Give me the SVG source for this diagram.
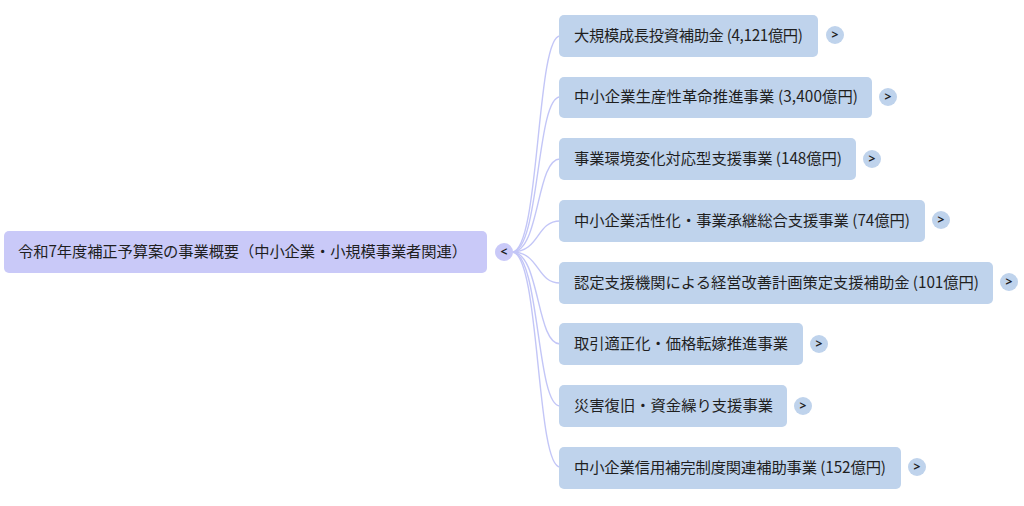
<svg xmlns="http://www.w3.org/2000/svg" width="1024" height="506" viewBox="0 0 1024 506">
<style>
.root{fill:#c9c9f8}
.box{fill:#bfd3ec}
.t{font-family:"Noto Sans CJK JP","Noto Sans",sans-serif;font-size:15.3px;fill:#1f1f1f}
.btn{font-family:"Noto Sans","Liberation Sans",sans-serif;font-size:12px;font-weight:bold;fill:#1f1f1f;text-anchor:middle}
.cr{fill:#c9c9f8}
.cb{fill:#bfd3ec}
.link{fill:none;stroke:#c3c6f7;stroke-width:1.4}
</style>
<rect width="1024" height="506" fill="#ffffff"/>
<g id="connectors">
<path class="link" d="M512,252 C540,252 536,36 560,36"/>
<path class="link" d="M512,252 C540,252 536,97 560,97"/>
<path class="link" d="M512,252 C540,252 536,159 560,159"/>
<path class="link" d="M512,252 C540,252 536,221 560,221"/>
<path class="link" d="M512,252 C540,252 536,283 560,283"/>
<path class="link" d="M512,252 C540,252 536,344 560,344"/>
<path class="link" d="M512,252 C540,252 536,406 560,406"/>
<path class="link" d="M512,252 C540,252 536,467 560,467"/>
</g>
<g id="root">
<rect class="root" x="4" y="231" width="483" height="42" rx="5"/>
<text class="t" x="18" y="257" textLength="449">令和7年度補正予算案の事業概要（中小企業・小規模事業者関連）</text>
<circle class="cr" cx="504" cy="252" r="9"/>
<text class="btn" x="504" y="256">&lt;</text>
</g>
<g id="n1">
<rect class="box" x="559" y="15" width="259" height="42" rx="5"/>
<text class="t" x="574" y="41" textLength="229">大規模成長投資補助金 (4,121億円)</text>
<circle class="cb" cx="835" cy="35" r="9"/>
<text class="btn" x="835" y="39">&gt;</text>
</g>
<g id="n2">
<rect class="box" x="559" y="77" width="313" height="41" rx="5"/>
<text class="t" x="574" y="102" textLength="284">中小企業生産性革命推進事業 (3,400億円)</text>
<circle class="cb" cx="888" cy="97" r="9"/>
<text class="btn" x="888" y="101">&gt;</text>
</g>
<g id="n3">
<rect class="box" x="559" y="138" width="297" height="42" rx="5"/>
<text class="t" x="574" y="164" textLength="268">事業環境変化対応型支援事業 (148億円)</text>
<circle class="cb" cx="872" cy="159" r="9"/>
<text class="btn" x="872" y="163">&gt;</text>
</g>
<g id="n4">
<rect class="box" x="559" y="200" width="366" height="42" rx="5"/>
<text class="t" x="574" y="226" textLength="336">中小企業活性化・事業承継総合支援事業 (74億円)</text>
<circle class="cb" cx="941" cy="220" r="9"/>
<text class="btn" x="941" y="224">&gt;</text>
</g>
<g id="n5">
<rect class="box" x="559" y="262" width="434" height="42" rx="5"/>
<text class="t" x="574" y="288" textLength="405">認定支援機関による経営改善計画策定支援補助金 (101億円)</text>
<circle class="cb" cx="1009" cy="282" r="9"/>
<text class="btn" x="1009" y="286">&gt;</text>
</g>
<g id="n6">
<rect class="box" x="559" y="323" width="244" height="42" rx="5"/>
<text class="t" x="574" y="349" textLength="214">取引適正化・価格転嫁推進事業</text>
<circle class="cb" cx="819" cy="344" r="9"/>
<text class="btn" x="819" y="348">&gt;</text>
</g>
<g id="n7">
<rect class="box" x="559" y="385" width="228" height="42" rx="5"/>
<text class="t" x="574" y="411" textLength="199">災害復旧・資金繰り支援事業</text>
<circle class="cb" cx="803" cy="406" r="9"/>
<text class="btn" x="803" y="410">&gt;</text>
</g>
<g id="n8">
<rect class="box" x="559" y="447" width="342" height="42" rx="5"/>
<text class="t" x="574" y="473" textLength="312">中小企業信用補完制度関連補助事業 (152億円)</text>
<circle class="cb" cx="917" cy="467" r="9"/>
<text class="btn" x="917" y="471">&gt;</text>
</g>
</svg>
